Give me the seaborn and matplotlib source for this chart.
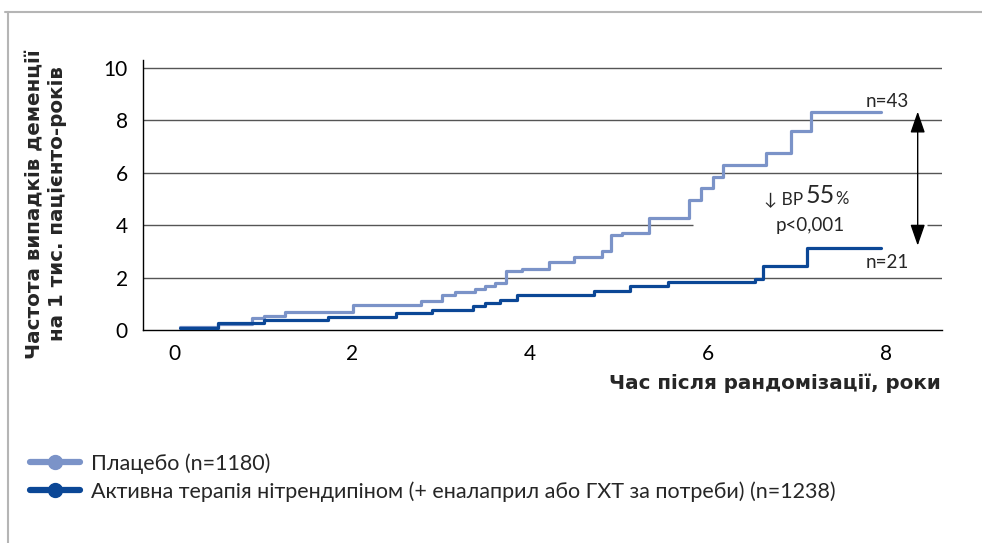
import numpy as np
import matplotlib
matplotlib.use("Agg")
import matplotlib.pyplot as plt
from matplotlib.lines import Line2D
import seaborn as sb
import pandas as pd

# DATA
#-----------------------
placebo_t = [0.07, 0.49, 0.87, 1.01, 1.25, 2.01, 2.78, 3.01, 3.16, 3.38, 3.49, 3.61, 3.73, 3.91,
             4.21, 4.50, 4.81, 4.91, 5.03, 5.34, 5.79, 5.92, 6.06, 6.17, 6.66, 6.94, 7.16, 7.95]
placebo_y = [0.13, 0.23, 0.45, 0.55, 0.70, 0.95, 1.12, 1.34, 1.46, 1.56, 1.68, 1.78, 2.26, 2.34,
             2.59, 2.80, 3.02, 3.63, 3.69, 4.29, 4.96, 5.41, 5.82, 6.30, 6.77, 7.61, 8.31, 8.31]
active_t = [0.07, 0.49, 1.01, 1.73, 2.50, 2.90, 3.36, 3.49, 3.66, 3.86, 4.72, 5.12, 5.55, 6.53,
            6.62, 7.11, 7.95]
active_y = [0.06, 0.26, 0.38, 0.51, 0.64, 0.76, 0.92, 1.04, 1.16, 1.34, 1.49, 1.68, 1.84, 1.93,
            2.46, 3.14, 3.14]

group_names = ["Плацебо (n=1180)",
               "Активна терапія нітрендипіном (+ еналаприл або ГХТ за потреби) (n=1238)"]
group_colors = ["#7b93c8", "#0b4796"]
x_ticks = [0, 2, 4, 6, 8]
y_ticks = [0, 2, 4, 6, 8, 10]
end_labels = ["n=43", "n=21"]

# PLOT
#-----------------------
def make_plot():
    sb.set_theme(style="white")
    plt.rcParams["font.family"] = ["Lato", "DejaVu Sans"]

    df = pd.concat([
        pd.DataFrame({"t": placebo_t, "rate": placebo_y, "group": group_names[0]}),
        pd.DataFrame({"t": active_t, "rate": active_y, "group": group_names[1]}),
    ])

    fig = plt.figure(figsize=(9.82, 5.43), dpi=100)
    ax = fig.add_axes([143/982, (543-330)/543, (941.7-143)/982, (330-60)/543])

    # grid lines drawn by hand (the 4-line is broken for the annotation)
    xl = (-0.35, 8.63)
    for yv in [2, 6, 8, 10]:
        ax.hlines(yv, xl[0], xl[1], color="#555555", lw=1, zorder=1)
    ax.hlines(4, xl[0], 5.83, color="#555555", lw=1, zorder=1)
    ax.hlines(4, 8.46, xl[1], color="#555555", lw=1, zorder=1)

    sb.lineplot(data=df, x="t", y="rate", hue="group", palette=group_colors,
                estimator=None, drawstyle="steps-post", lw=2.3, legend=False, ax=ax, zorder=3)

    ax.set_xlim(*xl)
    ax.set_ylim(0, 10.3)
    ax.set_xticks(x_ticks)
    ax.set_yticks(y_ticks)
    ax.tick_params(axis="both", length=0, labelsize=15, colors="black")
    ax.tick_params(axis="x", pad=10)
    ax.tick_params(axis="y", pad=11)
    ax.set_xlabel("")
    ax.set_ylabel("")
    for s in ["top", "right"]:
        ax.spines[s].set_visible(False)
    for s in ["left", "bottom"]:
        ax.spines[s].set_color("black")
        ax.spines[s].set_linewidth(1)

    # end labels + arrow
    ax.text(8.02, 8.71, end_labels[0], fontsize=13.5, ha="center", va="center")
    ax.text(8.02, 2.56, end_labels[1], fontsize=13.5, ha="center", va="center")
    ax.annotate("", xy=(8.36, 8.33), xytext=(8.36, 3.22),
                arrowprops=dict(arrowstyle="<|-|>,head_length=1.3,head_width=0.45",
                                color="black", lw=1, mutation_scale=10, shrinkA=0, shrinkB=0))
    t55 = ax.text(7.10, 4.83, "55", fontsize=18, ha="left", va="baseline")
    ax.annotate("%", xy=(1, 0), xycoords=t55, xytext=(0.5, 0), textcoords="offset points",
                fontsize=12, ha="left", va="bottom")
    ax.annotate("↓ ВР", xy=(0, 0), xycoords=t55, xytext=(-2, 0), textcoords="offset points",
                fontsize=12.5, ha="right", va="bottom")
    ax.text(7.15, 3.79, "p<0,001", fontsize=13.5, ha="center", va="baseline")

    # axis titles
    fig.text(941/982, 1-383/543, "Час після рандомізації, роки", ha="right", va="center",
             fontsize=14.3, fontweight="bold", family="DejaVu Sans")
    fig.text(46/982, 1-204/543, "Частота випадків деменції\nна 1 тис. пацієнто-років",
             rotation=90, ha="center", va="center", fontsize=14.3, fontweight="bold",
             family="DejaVu Sans", linespacing=1.25)

    # legend
    handles = [Line2D([], [], color=c, lw=4.5, marker="o", markersize=10) for c in group_colors]
    fig.legend(handles, group_names, loc="upper left", bbox_to_anchor=(30/982, 1-453/543),
               frameon=False, fontsize=15.5, handlelength=2.3, handletextpad=0.55,
               labelspacing=0.35, borderpad=0, borderaxespad=0)

    # outer frame
    fig.add_artist(Line2D([5/982, 1], [1-12/543, 1-12/543], color="#b5b5b5", lw=1.5))
    fig.add_artist(Line2D([8/982, 8/982], [0, 1-12/543], color="#b5b5b5", lw=1.5))

    plt.savefig("out.png", dpi=100)

if __name__ == "__main__":
    make_plot()
